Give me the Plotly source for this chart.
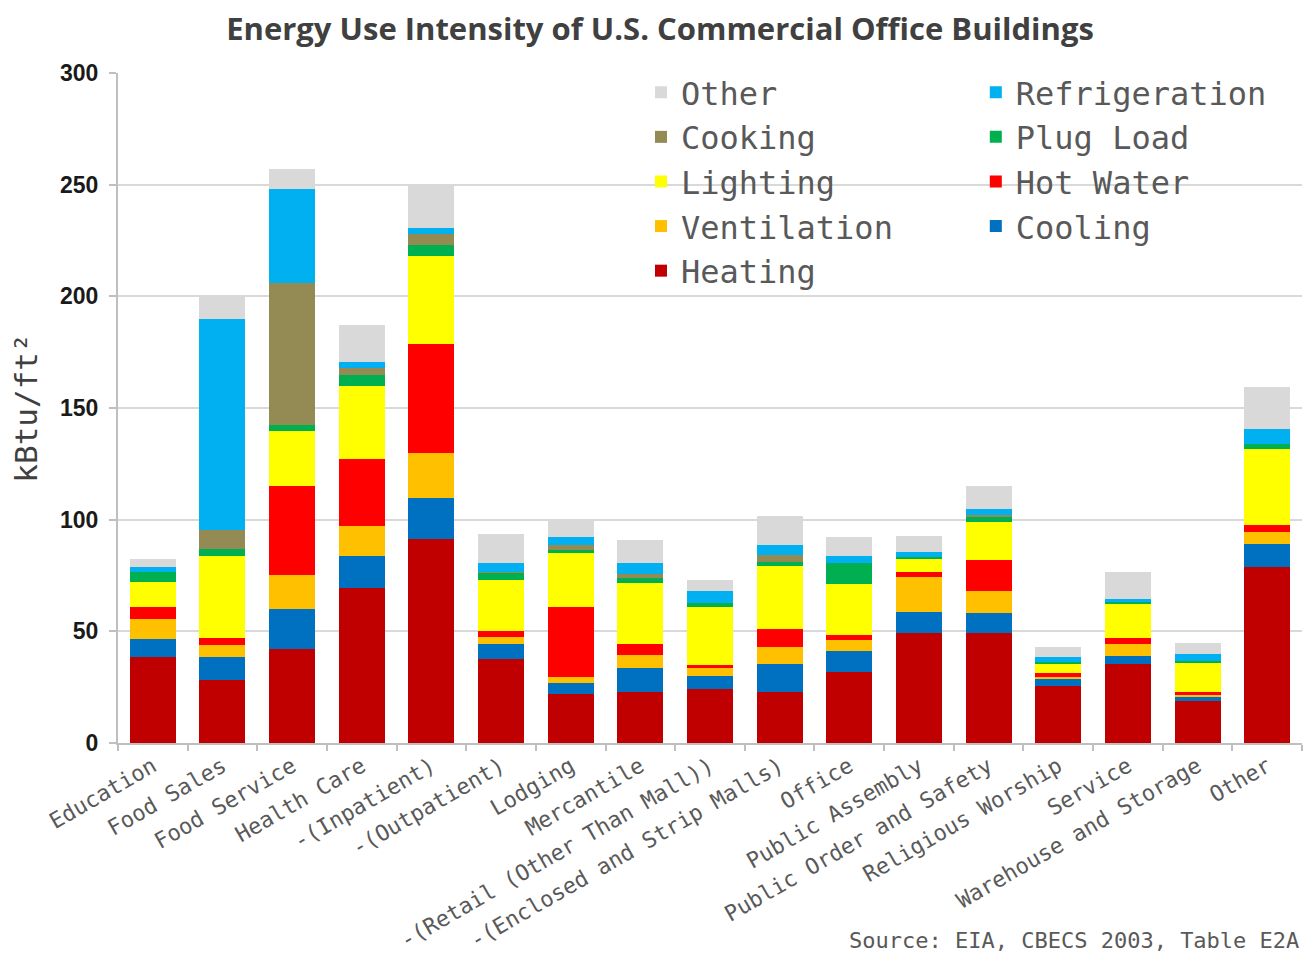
import plotly.graph_objects as go

categories = ["Education", "Food Sales", "Food Service", "Health Care", "-(Inpatient)",
              "-(Outpatient)", "Lodging", "Mercantile", "-(Retail (Other Than Mall))",
              "-(Enclosed and Strip Malls)", "Office", "Public Assembly",
              "Public Order and Safety", "Religious Worship", "Service",
              "Warehouse and Storage", "Other"]

heating       = [38.7, 28.3, 42.1, 69.6, 91.2, 37.5, 21.9, 23.0, 24.2, 23.0, 32.0, 49.4, 49.4, 25.6, 35.4, 18.9, 78.8]
cooling       = [8.0, 10.1, 17.7, 14.2, 18.6, 6.8, 4.9, 10.5, 6.0, 12.3, 9.2, 9.4, 8.9, 3.0, 3.7, 1.5, 10.5]
ventilation   = [8.7, 5.5, 15.3, 13.3, 20.1, 3.3, 2.7, 5.9, 3.3, 7.6, 4.9, 15.6, 9.8, 1.1, 5.2, 0.9, 5.2]
hot_water     = [5.6, 3.0, 40.2, 30.1, 48.9, 2.7, 31.5, 4.9, 1.5, 8.0, 2.2, 2.2, 13.7, 1.5, 2.6, 1.5, 3.0]
lighting      = [11.2, 36.9, 24.6, 32.8, 39.2, 22.6, 24.1, 27.4, 26.0, 28.3, 22.8, 6.0, 17.1, 4.5, 15.6, 13.2, 34.2]
plug_load     = [4.4, 3.2, 2.6, 4.9, 4.8, 3.3, 1.5, 2.4, 1.5, 1.9, 9.3, 0.7, 2.3, 0.7, 0.5, 0.5, 2.2]
cooking       = [0.0, 8.2, 63.3, 3.2, 4.9, 0.5, 2.2, 1.5, 0.0, 3.0, 0.0, 0.0, 0.7, 0.0, 0.0, 0.0, 0.0]
refrigeration = [2.2, 94.5, 42.2, 2.3, 2.7, 3.9, 3.4, 5.0, 5.6, 4.4, 3.2, 2.2, 3.0, 2.0, 1.7, 3.4, 6.7]
other         = [3.8, 10.1, 9.1, 16.6, 18.8, 13.2, 7.8, 10.5, 5.1, 13.0, 8.6, 7.0, 10.4, 4.7, 11.9, 4.7, 19.0]

series_names = ["Heating", "Cooling", "Ventilation", "Hot Water", "Lighting",
                "Plug Load", "Cooking", "Refrigeration", "Other"]
series_values = [heating, cooling, ventilation, hot_water, lighting,
                 plug_load, cooking, refrigeration, other]
series_colors = ["#C00000", "#0070C0", "#FFC000", "#FF0000", "#FFFF00",
                 "#00B050", "#948A54", "#00B0F0", "#D9D9D9"]
# legend column assignment (two columns like the reference)
series_legend = ["legend", "legend2", "legend", "legend2", "legend",
                 "legend2", "legend", "legend2", "legend"]

y_ticks = [0, 50, 100, 150, 200, 250, 300]

fig = go.Figure()
for name, vals, col, leg in zip(series_names, series_values, series_colors, series_legend):
    fig.add_trace(go.Bar(
        x=categories, y=vals, name=name,
        marker=dict(color=col, line=dict(width=0)),
        legend=leg,
    ))

mono = "DejaVu Sans Mono"
legend_style = dict(
    font=dict(family=mono, size=32, color="#595959"),
    bgcolor="rgba(255,255,255,0)",
    traceorder="reversed",
    orientation="v",
    xanchor="left", yanchor="top",
    itemclick=False, itemdoubleclick=False,
    tracegroupgap=0,
)

# the page body has an 8px margin; the figure is sized to fill the rest
fig.update_layout(
    width=1295, height=949,
    barmode="stack",
    bargap=0.34,
    plot_bgcolor="white",
    paper_bgcolor="white",
    margin=dict(l=110, r=1, t=65, b=214, autoexpand=False),
    title=dict(
        text="<b>Energy Use Intensity of U.S. Commercial Office Buildings</b>",
        x=0.5035, xanchor="center", y=0.9779, yanchor="middle",
        font=dict(family="Open Sans", size=31, color="#404040"),
    ),
    legend=dict(x=0.4417, y=1.012, **legend_style),
    legend2=dict(x=0.7245, y=1.012, **legend_style),
    xaxis=dict(
        type="category",
        tickangle=-30,
        tickfont=dict(family=mono, size=22, color="#595959"),
        showline=True, linecolor="#BFBFBF", linewidth=2,
        ticks="outside", tickson="boundaries", ticklen=6, tickcolor="#BFBFBF", tickwidth=1.5,
        showgrid=False, automargin=False,
    ),
    yaxis=dict(
        range=[0, 300],
        tickvals=y_ticks,
        ticktext=["<b>%d</b>" % v for v in y_ticks],
        tickfont=dict(family="Liberation Sans", size=23, color="#1A1A1A"),
        ticklabelstandoff=6,
        showline=True, linecolor="#BFBFBF", linewidth=2,
        ticks="outside", ticklen=7, tickcolor="#BFBFBF", tickwidth=1.5,
        showgrid=True, gridcolor="#D9D9D9", gridwidth=2,
        zeroline=False, automargin=False,
        title=dict(text="kBtu/ft²", font=dict(family=mono, size=31, color="#404040"), standoff=16),
    ),
    shapes=[dict(
        type="rect", xref="paper", yref="y",
        x0=0.442, x1=1.0, y0=202, y1=303,
        fillcolor="white", line=dict(width=0), layer="between",
    )],
    annotations=[dict(
        text="Source: EIA, CBECS 2003, Table E2A",
        xref="paper", yref="paper", x=0.999, y=-0.316,
        xanchor="right", yanchor="bottom", showarrow=False,
        font=dict(family=mono, size=22, color="#595959"),
    )],
)

fig.write_html("out.html")
